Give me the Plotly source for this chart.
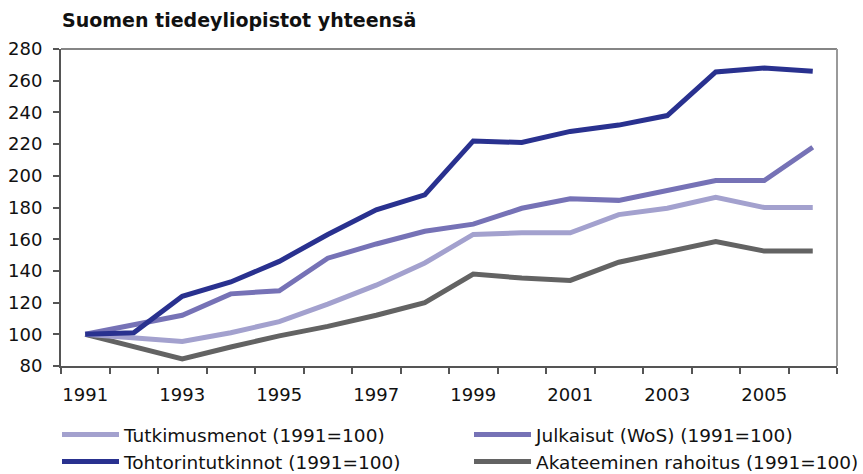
import plotly.graph_objects as go

years = list(range(1991, 2007))
tutkimusmenot = [100, 97.5, 95.5, 101, 108, 119, 131, 145, 163, 164, 164, 175.5, 179.5, 186.5, 180, 180]
tohtorintutkinnot = [100, 101, 124, 133, 146, 163, 178.5, 188, 222, 221, 228, 232, 238, 265.5, 268, 266]
julkaisut = [100, 106, 112, 125.5, 127.5, 148, 157, 165, 169.5, 179.5, 185.5, 184.5, 191, 197, 197, 218]
akateeminen = [100, 92, 84.5, 92, 99, 105, 112, 120, 138, 135.5, 134, 145.5, 152, 158.5, 152.5, 152.5]

names = ["Tutkimusmenot (1991=100)", "Julkaisut (WoS) (1991=100)",
         "Tohtorintutkinnot (1991=100)", "Akateeminen rahoitus (1991=100)"]
colors = ["#A3A1CE", "#7672B6", "#29318F", "#636363"]
series = [tutkimusmenot, julkaisut, tohtorintutkinnot, akateeminen]
legend_of = ["legend", "legend2", "legend", "legend2"]
draw_order = [3, 0, 1, 2]

fig = go.Figure()
for i in draw_order:
    fig.add_trace(go.Scatter(x=years, y=series[i], mode="lines", name=names[i],
                             line=dict(color=colors[i], width=5), legendrank=i + 1,
                             legend=legend_of[i], legendgroup="g%d" % i))

font = "DejaVu Sans, sans-serif"
leg_common = dict(orientation="v", xanchor="left", yanchor="top",
                  y=-(416 - 366) / 317,
                  font=dict(size=18.5, color="#111111", family=font), itemwidth=57,
                  tracegroupgap=3, traceorder="normal", bgcolor="rgba(0,0,0,0)")
fig.update_layout(
    width=863, height=474,
    margin=dict(l=61, r=26, t=49, b=108, autoexpand=False),
    paper_bgcolor="white", plot_bgcolor="white",
    font=dict(family=font, size=18, color="#111111"),
    title=dict(text="<b>Suomen tiedeyliopistot yhteensä</b>", x=62 / 863, xanchor="left",
               xref="container", y=1 - 20 / 474, yanchor="middle",
               font=dict(size=19, color="#111111", family=font)),
    showlegend=True,
    legend=dict(x=(57 - 61) / 776, **leg_common),
    legend2=dict(x=(469 - 61) / 776, **leg_common),
    shapes=[dict(type="line", xref="paper", yref="paper", x0=0, x1=1, y0=1, y1=1,
                 line=dict(color="#858585", width=2)),
            dict(type="line", xref="paper", yref="paper", x0=1, x1=1, y0=0, y1=1,
                 line=dict(color="#9a9a9a", width=2))],
)
fig.update_xaxes(range=[1990.5, 2006.5], tickvals=list(range(1991, 2007, 2)),
                 ticks="", showgrid=False, zeroline=False,
                 showline=True, linecolor="#555555", linewidth=2,
                 tickfont=dict(size=18), ticklabelstandoff=11,
                 minor=dict(tickvals=[1990.5 + k for k in range(17)], ticks="outside",
                            ticklen=6, tickwidth=1.5, tickcolor="#555555", showgrid=False))
fig.update_yaxes(range=[80, 280], dtick=20, tick0=80, ticks="outside", ticklen=6,
                 tickwidth=1.5, tickcolor="#555555", showgrid=False, zeroline=False,
                 showline=True, linecolor="#555555", linewidth=2,
                 tickfont=dict(size=18), ticklabelstandoff=7)

fig.write_html("out.html", config={"displayModeBar": False},
               post_script="document.body.style.margin='0';")
